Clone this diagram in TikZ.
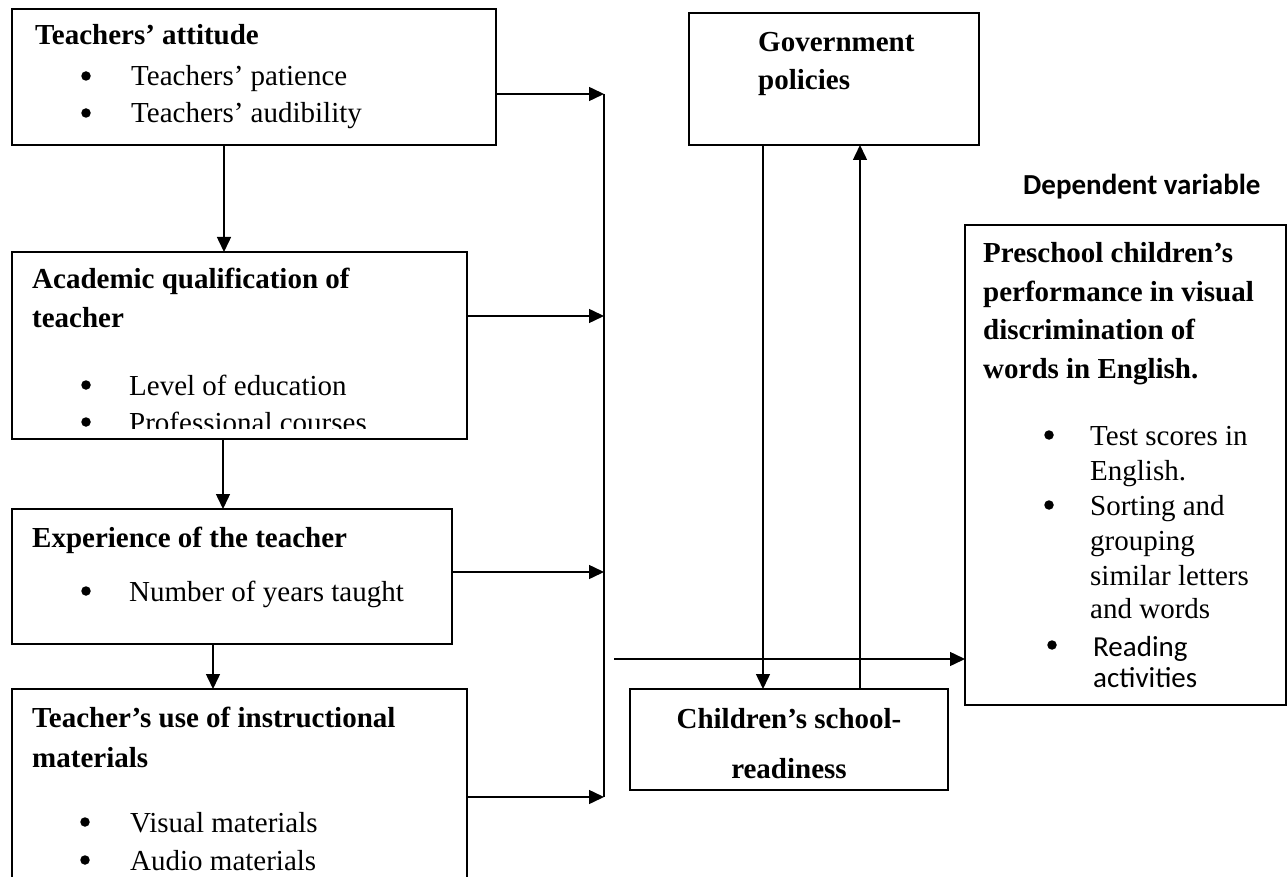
\documentclass[tikz,border=0pt]{standalone}
\usepackage{fontspec}
\setmainfont{Liberation Serif}
\newfontfamily\calib{Carlito}
\usetikzlibrary{arrows.meta}
\begin{document}
\begin{tikzpicture}[x=1pt,y=-1pt,
  box/.style={draw,line width=1.5pt,anchor=north west,inner sep=0pt,outer sep=0pt},
  txt/.style={anchor=base west,inner sep=0pt,font=\fontsize{29}{35}\selectfont},
  bold/.style={anchor=base west,inner sep=0pt,font=\fontsize{29}{35}\selectfont\bfseries},
  dot/.style={circle,fill,inner sep=0pt,minimum size=9.5pt},
  arr/.style={line width=1.5pt,-{Triangle[length=15pt,width=14pt]}},
  ln/.style={line width=1.5pt}]
\clip (0,0) rectangle (1288,877);
% boxes
\node[box,minimum width=484pt,minimum height=136pt] (b1) at (12,9) {};
\node[box,minimum width=455pt,minimum height=187pt] (b2) at (12,252) {};
\node[box,minimum width=440pt,minimum height=135pt] (b3) at (12,509) {};
\node[box,minimum width=455pt,minimum height=240pt] (b4) at (12,689) {};
\node[box,minimum width=290pt,minimum height=132pt] (gov) at (689,13) {};
\node[box,minimum width=318pt,minimum height=101pt] (chi) at (630,689) {};
\node[box,minimum width=321pt,minimum height=480pt] (pre) at (965,225) {};
% box 1 text
\node[bold] (t1) at (35,45) {Teachers’ attitude};
\node[dot] (t1ad) at (86,76) {};
\node[txt] (t1a) at (131,86) {Teachers’ patience};
\node[dot] (t1bd) at (86,113) {};
\node[txt] (t1b) at (131,123) {Teachers’ audibility};
% box 2 text
\node[bold] (t2) at (32,289) {Academic qualification of};
\node[bold] (t2x) at (32,328) {teacher};
\node[dot] (t2ad) at (86,385) {};
\node[txt] (t2a) at (129,395) {Level of education};
\node[dot] (t2bd) at (86,422) {};
\begin{scope}
\clip (60,400) rectangle (460,428);
\node[txt] (t2b) at (129,432) {Professional courses};
\end{scope}
% box 3 text
\node[bold] (t3) at (32,547) {Experience of the teacher};
\node[dot] (t3ad) at (86,591) {};
\node[txt] (t3a) at (129,601) {Number of years taught};
% box 4 text
\node[bold] (t4) at (32,727) {Teacher’s use of instructional};
\node[bold] (t4x) at (32,767) {materials};
\node[dot] (t4ad) at (85,822) {};
\node[txt] (t4a) at (130,832) {Visual materials};
\node[dot] (t4bd) at (85,860) {};
\node[txt] (t4b) at (130,870) {Audio materials};
% government
\node[bold] (g1) at (758,52) {Government};
\node[bold] (g2) at (758,90) {policies};
% children
\node[bold,anchor=base] (c1) at (789,728) {Children’s school-};
\node[bold,anchor=base] (c2) at (789,778) {readiness};
% dependent
\node[anchor=base west,inner sep=0pt,font=\calib\fontsize{29}{35}\selectfont\bfseries] (dv) at (1023,195) {Dependent variable};
\node[bold] (p1) at (983,263) {Preschool children’s};
\node[bold] (p2) at (983,302) {performance in visual};
\node[bold] (p3) at (983,340) {discrimination of};
\node[bold] (p4) at (983,378) {words in English.};
\node[dot] (p5d) at (1049,435) {};
\node[txt] (p5) at (1090,445) {Test scores in};
\node[txt] (p6) at (1090,480) {English.};
\node[dot] (p7d) at (1049,505) {};
\node[txt] (p7) at (1090,515) {Sorting and};
\node[txt] (p8) at (1090,550) {grouping};
\node[txt] (p9) at (1090,585) {similar letters};
\node[txt] (p10) at (1090,618) {and words};
\node[dot] (p11d) at (1052,645) {};
\node[anchor=base west,inner sep=0pt,font=\calib\fontsize{29}{35}\selectfont] (p11) at (1093,656) {Reading};
\node[anchor=base west,inner sep=0pt,font=\calib\fontsize{29}{35}\selectfont] (p12) at (1093,687) {activities};
% connectors
\coordinate (j1) at (604,94);
\coordinate (j2) at (604,316);
\coordinate (j3) at (604,572);
\coordinate (j4) at (604,797);
\draw[arr] (b1.east |- j1) -- (j1);
\draw[arr] (b2.east |- j2) -- (j2);
\draw[arr] (b3.east |- j3) -- (j3);
\draw[arr] (b4.east |- j4) -- (j4);
\draw[ln] (j1) -- (j4);
\coordinate (d1) at (224,0);
\coordinate (d2) at (223,0);
\coordinate (d3) at (213,0);
\draw[arr] (b1.south -| d1) -- (b2.north -| d1);
\draw[arr] (b2.south -| d2) -- (b3.north -| d2);
\draw[arr] (b3.south -| d3) -- (b4.north -| d3);
\coordinate (v1) at (763,0);
\coordinate (v2) at (860,0);
\draw[arr] (gov.south -| v1) -- (chi.north -| v1);
\draw[arr] (chi.north -| v2) -- (gov.south -| v2);
\coordinate (h0) at (614,659);
\draw[arr] (h0) -- (pre.west |- h0);
\end{tikzpicture}
\end{document}
